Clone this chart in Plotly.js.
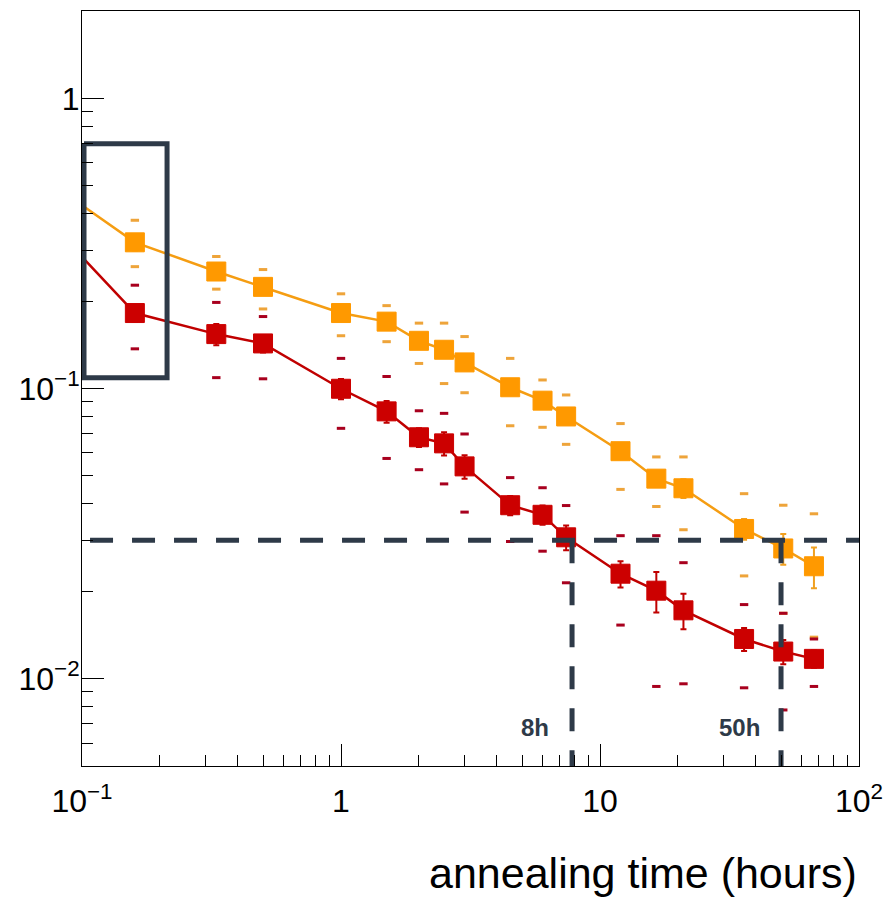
<!DOCTYPE html>
<html>
<head>
<meta charset="utf-8">
<script src="https://cdn.plot.ly/plotly-3.0.1.min.js"></script>
<style>html,body{margin:0;padding:0;background:#fff;}#chart{width:884px;height:898px;}</style>
</head>
<body>
<div id="chart"></div>
<script>
// ---- data ----
const timeHours = [0.16, 0.33, 0.5, 1, 1.5, 2, 2.5, 3, 4.5, 6, 7.4, 12, 16.5, 21, 36, 51, 67];
const orangeVal = [0.319, 0.253, 0.224, 0.182, 0.170, 0.146, 0.136, 0.123, 0.101, 0.0908, 0.0801, 0.0608, 0.0489, 0.0453, 0.0328, 0.0281, 0.0244];
const orangeErr = [0.02, 0.015, 0.013, 0.011, 0.01, 0.009, 0.008, 0.007, 0.006, 0.005, 0.0045, 0.0035, 0.003, 0.0034, 0.0027, 0.0034, 0.0039];
const redVal = [0.182, 0.154, 0.143, 0.0998, 0.0834, 0.0679, 0.0647, 0.0539, 0.0396, 0.0367, 0.0307, 0.0230, 0.0201, 0.0172, 0.0137, 0.0124, 0.0117];
const redErr = [0.012, 0.013, 0.01, 0.008, 0.0072, 0.005, 0.0059, 0.005, 0.003, 0.0028, 0.003, 0.0024, 0.0032, 0.0024, 0.00125, 0.0012, 0.0008];
const orangeCapHi = [0.380, 0.285, 0.257, 0.212, 0.193, 0.168, 0.168, 0.151, 0.127, 0.107, 0.095, 0.0757, 0.0581, 0.0581, 0.0434, 0.0396, 0.0370];
const orangeCapLo = [0.263, 0.220, 0.188, 0.152, 0.145, 0.122, 0.104, 0.0967, 0.0744, 0.0735, 0.0642, 0.0449, 0.0392, 0.0326, 0.0226, 0.0168, 0.0139];
const redCapHi = [0.227, 0.198, 0.177, 0.127, 0.110, 0.0838, 0.0821, 0.0697, 0.0493, 0.0455, 0.0395, 0.0311, 0.0311, 0.0251, 0.0180, 0.0168, 0.0137];
const redCapLo = [0.137, 0.109, 0.108, 0.0729, 0.0574, 0.0525, 0.0469, 0.0375, 0.0297, 0.0275, 0.0214, 0.0153, 0.0094, 0.0096, 0.0093, 0.0078, 0.0094];
// line segment entering from the left edge
const lineStartX = [0.1];
const orangeStartY = [0.428];
const redStartY = [0.284];
// guide annotations
const thresholdY = 0.03;
const guideTimes = [7.8, 50];
const guideLabels = ['8h', '50h'];
const guideLabelX = [5.6, 34.7];
const guideLabelY = 0.0068;
const boxX = [0.1018, 0.213];
const boxY = [0.109, 0.697];
const xTickVals = [0.1, 1, 10, 100];
const xTickText = ['10<sup>−1</sup>', '1', '10', '10<sup>2</sup>'];
const yTickVals = [0.01, 0.1, 1];
const yTickText = ['10<sup>−2</sup>', '10<sup>−1</sup>', '1'];
const xTitle = 'annealing time (hours)';

const ORANGE = '#ff9900', RED = '#cc0000', GUIDE = '#2e3a48';
const ORANGE_CAP = '#eea43a', RED_CAP = '#a8001e';

function minorVals(lo, hi) {
  const out = [];
  for (let d = lo; d <= hi; d++) for (let k = 2; k <= 9; k++) out.push(k * Math.pow(10, d));
  return out;
}

const traces = [];
traces.push({x: lineStartX.concat(timeHours), y: orangeStartY.concat(orangeVal), mode: 'lines',
  line: {color: '#f59d12', width: 2.5}, hoverinfo: 'skip', showlegend: false});
traces.push({x: lineStartX.concat(timeHours), y: redStartY.concat(redVal), mode: 'lines',
  line: {color: '#c00000', width: 2.5}, hoverinfo: 'skip', showlegend: false});
[[orangeCapHi, ORANGE_CAP], [orangeCapLo, ORANGE_CAP], [redCapHi, RED_CAP], [redCapLo, RED_CAP]].forEach(([arr, c]) => {
  traces.push({x: timeHours, y: arr, mode: 'markers', showlegend: false, hoverinfo: 'skip',
    marker: {symbol: 'line-ew', size: 6, line: {color: c, width: 3}}});
});
traces.push({x: timeHours, y: orangeVal, mode: 'markers', showlegend: false,
  marker: {symbol: 'square', size: 19, color: ORANGE, line: {color: ORANGE, width: 1}},
  error_y: {type: 'data', array: orangeErr, visible: true, color: '#f0a020', thickness: 2, width: 3}});
traces.push({x: timeHours, y: redVal, mode: 'markers', showlegend: false,
  marker: {symbol: 'square', size: 19, color: RED, line: {color: RED, width: 1}},
  error_y: {type: 'data', array: redErr, visible: true, color: '#c00000', thickness: 2, width: 3}});
// guide lines
traces.push({x: [0.1074, 100], y: [thresholdY, thresholdY], mode: 'lines', hoverinfo: 'skip', showlegend: false,
  line: {color: GUIDE, width: 5, dash: '23px,19px'}});
guideTimes.forEach(t => {
  traces.push({x: [t, t], y: [thresholdY, 0.005], mode: 'lines', hoverinfo: 'skip', showlegend: false,
    line: {color: GUIDE, width: 5, dash: '23px,19px'}});
});
traces.push({x: [boxX[0], boxX[1], boxX[1], boxX[0], boxX[0]], y: [boxY[1], boxY[1], boxY[0], boxY[0], boxY[1]],
  mode: 'lines', hoverinfo: 'skip', showlegend: false, line: {color: GUIDE, width: 5}});

const axisCommon = {
  type: 'log', showgrid: false, zeroline: false, showline: true, linecolor: '#000', linewidth: 1, mirror: true,
  ticks: 'inside', ticklen: 22, tickwidth: 1, tickcolor: '#000', tickmode: 'array',
  tickfont: {family: 'Liberation Sans, Arial, sans-serif', size: 32, color: '#000'},
  minor: {tickmode: 'array', tickvals: minorVals(-3, 2), ticks: 'inside', ticklen: 11, tickwidth: 1, tickcolor: '#000', showgrid: false}
};

const layout = {
  width: 884, height: 898,
  margin: {l: 82, r: 25, t: 11, b: 132},
  paper_bgcolor: '#fff', plot_bgcolor: '#fff',
  showlegend: false,
  font: {family: 'Liberation Sans, Arial, sans-serif', color: '#000'},
  xaxis: Object.assign({}, axisCommon, {range: [-1, 2], tickvals: xTickVals, ticktext: xTickText, ticklabelstandoff: 7}),
  yaxis: Object.assign({}, axisCommon, {range: [Math.log10(0.005), Math.log10(2)], tickvals: yTickVals, ticktext: yTickText, ticklabelstandoff: -5}),
  annotations: guideLabels.map((t, i) => ({
    text: '<b>' + t + '</b>', x: Math.log10(guideLabelX[i]), y: Math.log10(guideLabelY), xref: 'x', yref: 'y',
    showarrow: false, font: {family: 'Liberation Sans, Arial, sans-serif', size: 24, color: GUIDE}
  })).concat([{
    text: xTitle, xref: 'paper', yref: 'paper', x: 1, y: -0.142, xanchor: 'right', yanchor: 'middle',
    showarrow: false, font: {family: 'Liberation Sans, Arial, sans-serif', size: 43, color: '#000'}
  }])
};

Plotly.newPlot('chart', traces, layout, {displayModeBar: false, staticPlot: true});
</script>
</body>
</html>
